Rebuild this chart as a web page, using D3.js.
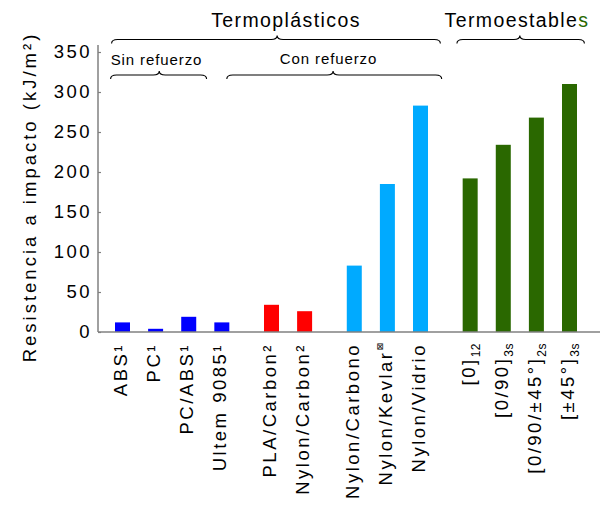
<!DOCTYPE html>
<html>
<head>
<meta charset="utf-8">
<script src="https://cdn.jsdelivr.net/npm/d3@7"></script>
<style>
  html, body { margin: 0; padding: 0; background: #fff; }
  svg { display: block; font-family: "Liberation Sans", Arial, sans-serif; }
</style>
</head>
<body>
<svg id="chart" width="600" height="509"></svg>
<script>
// ---- data ----
const categories = ["ABS", "PC", "PC/ABS", "Ultem 9085", "PLA/Carbon", "Nylon/Carbon",
  "Nylon/Carbono", "Nylon/Kevlar", "Nylon/Vidrio", "[0]", "[0/90]", "[0/90/±45°]", "[±45°]"];
const labelSup = ["¹", "¹", "¹", "¹", "²", "²", "", "⊠", "", "", "", "", ""];
const labelSub = ["", "", "", "", "", "", "", "", "", "12", "3s", "2s", "3s"];
const values = [12, 4, 19, 12, 34, 26, 83, 185, 283, 192, 234, 268, 310];
const groups = ["sin", "sin", "sin", "sin", "cf2", "cf2", "cf", "cf", "cf", "te", "te", "te", "te"];
const groupColors = { sin: "#0000ff", cf2: "#ff0000", cf: "#00aaff", te: "#2a6800" };
const yTicks = [0, 50, 100, 150, 200, 250, 300, 350];
const yTitle = "Resistencia a impacto (kJ/m²)";
// brackets: [label, start unit, end unit, tip unit, level]
const brackets = [
  { label: "Termoplásticos", from: -0.33, to: 9.6, tip: 4.67, level: "top" },
  { label: "Termoestables", from: 10.1, to: 13.95, tip: 12.0, level: "top" },
  { label: "Sin refuerzo", from: -0.36, to: 2.54, tip: 1.11, level: "sub" },
  { label: "Con refuerzo", from: 3.15, to: 9.64, tip: 6.36, level: "sub" }
];

// ---- positions (group gaps of half a slot) ----
const pos = [];
let offset = 0;
groups.forEach((g, i) => {
  if (i > 0 && g !== groups[i - 1]) offset += 0.5;
  pos.push(i + offset);
});

const svg = d3.select("#chart");
const x = d3.scaleLinear().domain([0, 13.5]).range([122.5, 569.5]);
const y = d3.scaleLinear().domain([0, 350]).range([332, 52]);
const axisX = 98;
const barW = 15;

// bars
svg.append("g").selectAll("rect")
  .data(values)
  .join("rect")
  .attr("x", (d, i) => x(pos[i]) - barW / 2)
  .attr("y", d => y(d))
  .attr("width", barW)
  .attr("height", d => y(0) - y(d))
  .attr("fill", (d, i) => groupColors[groups[i]]);

// y axis
const yAxis = d3.axisLeft(y).tickValues(yTicks).tickSizeInner(-3).tickSizeOuter(0).tickPadding(6);
const gy = svg.append("g").attr("transform", `translate(${axisX},0)`).call(yAxis);
gy.select(".domain").remove();
gy.selectAll(".tick line").attr("stroke", "#808080").attr("stroke-width", 1.2);
gy.selectAll(".tick text")
  .attr("fill", "#000")
  .style("font-size", "18.5px")
  .style("letter-spacing", "2.5px")
  .style("font-family", "'Liberation Sans', Arial, sans-serif");
gy.append("line")
  .attr("x1", 0).attr("x2", 0)
  .attr("y1", y(0)).attr("y2", y(350) - 7)
  .attr("stroke", "#808080").attr("stroke-width", 1.5);

// x axis baseline
svg.append("line")
  .attr("x1", axisX).attr("x2", 600)
  .attr("y1", y(0)).attr("y2", y(0))
  .attr("stroke", "#808080").attr("stroke-width", 1.5);

// x labels
const labels = svg.append("g").selectAll("text")
  .data(categories)
  .join("text")
  .attr("transform", (d, i) => `translate(${x(pos[i]) + 4.5},343) rotate(-90)`)
  .attr("text-anchor", "end")
  .style("font-size", "18.5px")
  .style("letter-spacing", "2.5px")
  .attr("fill", "#000");
labels.each(function (d, i) {
  const t = d3.select(this);
  t.append("tspan").text(d);
  if (labelSup[i] === "⊠") {
    t.append("tspan").text(labelSup[i]).style("font-size", "9px").attr("dy", -9)
      .style("font-family", "'DejaVu Sans', sans-serif").style("letter-spacing", "0px");
  } else if (labelSup[i]) {
    t.append("tspan").text(labelSup[i]);
  }
  if (labelSub[i]) {
    t.append("tspan").text(labelSub[i]).style("font-size", "12px").attr("dy", 5)
      .style("letter-spacing", "0.5px");
  }
});

// y title
svg.append("text")
  .attr("transform", `translate(36,197) rotate(-90)`)
  .attr("text-anchor", "middle")
  .style("font-size", "18.5px")
  .style("letter-spacing", "3px")
  .attr("fill", "#000")
  .text(yTitle);

// brackets
function bracePath(x1, x2, xt, yy) {
  const r = 6, h = 4;
  return `M${x1},${yy + h} Q${x1},${yy} ${x1 + r},${yy} L${xt - r},${yy} Q${xt},${yy} ${xt},${yy - h}` +
    ` Q${xt},${yy} ${xt + r},${yy} L${x2 - r},${yy} Q${x2},${yy} ${x2},${yy + h}`;
}
const bg = svg.append("g");
brackets.forEach(b => {
  const yy = b.level === "top" ? 39.5 : 75;
  bg.append("path")
    .attr("d", bracePath(x(b.from), x(b.to), x(b.tip), yy))
    .attr("fill", "none").attr("stroke", "#000").attr("stroke-width", 1.1);
});

// group titles
svg.append("text").attr("x", 286).attr("y", 26.5).attr("text-anchor", "middle")
  .style("font-size", "19.5px").style("letter-spacing", "1.4px").text(brackets[0].label);
const te = svg.append("text").attr("x", 517).attr("y", 26.5).attr("text-anchor", "middle")
  .style("font-size", "19.5px").style("letter-spacing", "1.4px");
te.append("tspan").text(brackets[1].label.slice(0, -1));
te.append("tspan").text(brackets[1].label.slice(-1)).attr("fill", groupColors.te);
svg.append("text").attr("x", 156.5).attr("y", 65).attr("text-anchor", "middle")
  .style("font-size", "15px").style("letter-spacing", "0.9px").text(brackets[2].label);
svg.append("text").attr("x", 328.5).attr("y", 64).attr("text-anchor", "middle")
  .style("font-size", "15px").style("letter-spacing", "0.9px").text(brackets[3].label);
</script>
</body>
</html>
